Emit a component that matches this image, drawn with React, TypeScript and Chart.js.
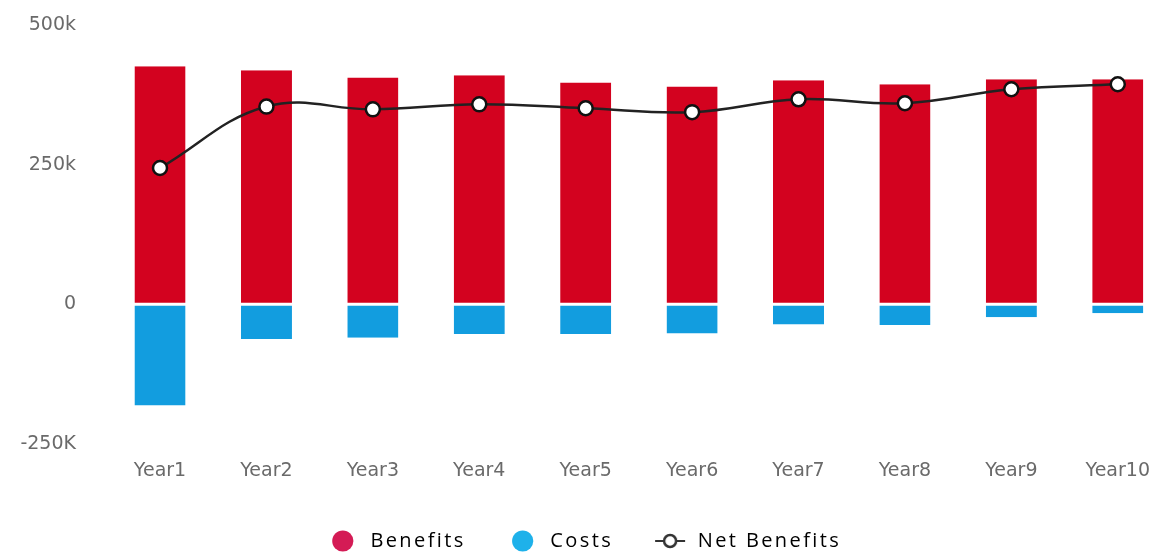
import React, { useEffect, useRef } from "react";
import { Chart, registerables } from "chart.js";

Chart.register(...registerables);

const categories = ["Year1", "Year2", "Year3", "Year4", "Year5", "Year6", "Year7", "Year8", "Year9", "Year10"];
const benefits = [426000, 419000, 406000, 410000, 397000, 390000, 401000, 394000, 403000, 403000];
const costs = [-181000, -62000, -60000, -53000, -53000, -52000, -36000, -37000, -23000, -16000];
const netBenefits = [244000, 354000, 349000, 358000, 351000, 344000, 367000, 360000, 385000, 394000];
const yTickValues = [-250000, 0, 250000, 500000];
const yTickLabels = ["-250K", "0", "250k", "500k"];
const legendLabels = ["Benefits", "Costs", "Net Benefits"];

const RED = "#d3021f";
const BLUE = "#129ddf";

function makeNetMarker(): HTMLCanvasElement {
  const c = document.createElement("canvas");
  c.width = 32;
  c.height = 18;
  const ctx = c.getContext("2d")!;
  ctx.strokeStyle = "#333";
  ctx.lineWidth = 2;
  ctx.beginPath();
  ctx.moveTo(1, 9);
  ctx.lineTo(31, 9);
  ctx.stroke();
  ctx.beginPath();
  ctx.arc(16, 9, 6, 0, Math.PI * 2);
  ctx.fillStyle = "#fff";
  ctx.fill();
  ctx.lineWidth = 2.5;
  ctx.stroke();
  return c;
}

const spacedLegend = {
  id: "spacedLegend",
  beforeLayout(chart: any) {
    const lg = chart.legend;
    if (!lg || lg.__spaced) return;
    lg.__spaced = true;
    const wrap = (name: string, shift: number) => {
      const orig = lg[name].bind(lg);
      lg[name] = (...args: any[]) => {
        const ctx = chart.ctx as any;
        ctx.save();
        ctx.letterSpacing = "2.4px";
        if (shift) ctx.translate(shift, 0);
        try {
          return orig(...args);
        } finally {
          ctx.restore();
          ctx.letterSpacing = "0px";
        }
      };
    };
    wrap("fit", 0);
    wrap("draw", 12);
  },
};

export default function App() {
  const ref = useRef<HTMLCanvasElement | null>(null);

  useEffect(() => {
    if (!ref.current) return;
    const xs = categories.map((_, i) => i + 1);
    const netMarker = makeNetMarker();
    const chart = new Chart(ref.current, {
      type: "bar",
      plugins: [spacedLegend],
      data: {
        datasets: [
          {
            type: "line",
            label: "Net Benefits",
            data: xs.map((x, i) => ({ x, y: netBenefits[i] })),
            borderColor: "#222",
            borderWidth: 2.5,
            tension: 0.4,
            pointRadius: 7,
            pointBorderWidth: 2.5,
            pointBackgroundColor: "#fff",
            pointBorderColor: "#111",
            order: 0,
          } as any,
          {
            label: "Benefits",
            data: xs.map((x, i) => ({ x, y: benefits[i] })),
            backgroundColor: RED,
            borderColor: "#fff",
            borderSkipped: false,
            borderWidth: { top: 0, left: 0, right: 0, bottom: 1.5 },
            grouped: false,
            categoryPercentage: 1,
            barPercentage: 0.48,
            order: 1,
          } as any,
          {
            label: "Costs",
            data: xs.map((x, i) => ({ x, y: costs[i] })),
            backgroundColor: BLUE,
            borderColor: "#fff",
            borderSkipped: false,
            borderWidth: { top: 1.5, left: 0, right: 0, bottom: 0 },
            grouped: false,
            categoryPercentage: 1,
            barPercentage: 0.48,
            order: 1,
          } as any,
        ],
      },
      options: {
        animation: false,
        responsive: false,
        maintainAspectRatio: false,
        layout: { padding: { top: 25, right: 6, left: 0, bottom: -5 } },
        scales: {
          x: {
            type: "linear",
            bounds: "data",
            offset: false,
            min: 0.436,
            max: 10.27,
            grid: { display: false, drawTicks: false, offset: false },
            border: { display: false },
            afterBuildTicks: (s: any) => {
              s.ticks = xs.map((value) => ({ value }));
            },
            afterFit: (s: any) => {
              s.height = 40;
              s.paddingLeft = 0;
              s.paddingRight = 0;
            },
            ticks: {
              autoSkip: false,
              maxRotation: 0,
              padding: 16,
              color: "#6a6a6a",
              font: { family: "DejaVu Sans", size: 19 },
              callback: (v: any) => {
                const i = Math.round(Number(v)) - 1;
                return categories[i] ?? "";
              },
            },
          },
          y: {
            min: -250000,
            max: 500000,
            grid: { display: false, drawTicks: false },
            border: { display: false },
            afterFit: (s: any) => {
              s.width = 100;
              s.paddingTop = 0;
              s.paddingBottom = 0;
            },
            afterBuildTicks: (s: any) => {
              s.ticks = yTickValues.map((value) => ({ value }));
            },
            ticks: {
              padding: 24,
              color: "#6a6a6a",
              font: { family: "DejaVu Sans", size: 19 },
              callback: (v: any) => {
                const i = yTickValues.indexOf(Number(v));
                return i >= 0 ? yTickLabels[i] : "";
              },
            },
          },
        },
        plugins: {
          tooltip: { enabled: false },
          legend: {
            position: "bottom",
            labels: {
              usePointStyle: true,
              boxWidth: 20,
              boxHeight: 15,
              padding: 47,
              color: "#5a5a5a",
              font: { family: "Open Sans", size: 20 },
              generateLabels: () => [
                { text: " " + legendLabels[0], fillStyle: "#d41b55", strokeStyle: "#d41b55", lineWidth: 0, pointStyle: "circle", datasetIndex: 1, hidden: false },
                { text: " " + legendLabels[1], fillStyle: "#1eb1ea", strokeStyle: "#1eb1ea", lineWidth: 0, pointStyle: "circle", datasetIndex: 2, hidden: false },
                { text: " " + legendLabels[2], fillStyle: "#fff", strokeStyle: "#333", lineWidth: 0, pointStyle: netMarker, datasetIndex: 0, hidden: false },
              ] as any,
            },
          },
        },
      },
    });
    return () => chart.destroy();
  }, []);

  return (
    <div style={{ position: "absolute", left: 0, top: 0, width: 1156, height: 556, background: "#fff" }}>
      <canvas ref={ref} width={1156} height={556} style={{ width: 1156, height: 556 }} />
    </div>
  );
}
